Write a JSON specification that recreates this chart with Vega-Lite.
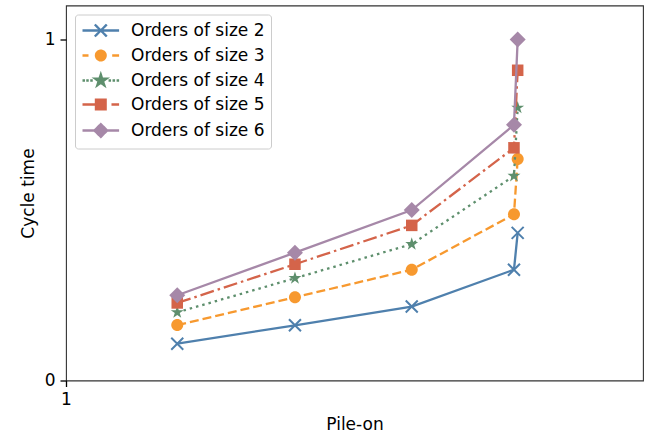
{
  "$schema": "https://vega.github.io/schema/vega-lite/v6.json",
  "width": 577,
  "height": 375,
  "autosize": {"type": "none"},
  "padding": {"left": 66, "top": 5.5, "right": 3, "bottom": 54.5},
  "background": "white",
  "config": {
    "font": "DejaVu Sans",
    "view": {"stroke": "#333333", "strokeWidth": 1.1},
    "axis": {
      "domain": false,
      "grid": false,
      "labelFlush": false,
      "tickColor": "#000000",
      "tickSize": 6,
      "tickWidth": 1.3,
      "labelFont": "DejaVu Sans",
      "labelFontSize": 17,
      "labelColor": "#000000",
      "labelPadding": 5,
      "titleFont": "DejaVu Sans",
      "titleFontSize": 17,
      "titleFontWeight": "normal",
      "titleColor": "#000000"
    }
  },
  "data": {
    "values": [
      {"x": 1.964, "y": 0.108, "s": "Orders of size 2"},
      {"x": 2.984, "y": 0.162, "s": "Orders of size 2"},
      {"x": 3.996, "y": 0.217, "s": "Orders of size 2"},
      {"x": 4.882, "y": 0.325, "s": "Orders of size 2"},
      {"x": 4.914, "y": 0.433, "s": "Orders of size 2"},
      {"x": 1.964, "y": 0.1625, "s": "Orders of size 3"},
      {"x": 2.984, "y": 0.244, "s": "Orders of size 3"},
      {"x": 3.996, "y": 0.325, "s": "Orders of size 3"},
      {"x": 4.882, "y": 0.4875, "s": "Orders of size 3"},
      {"x": 4.914, "y": 0.65, "s": "Orders of size 3"},
      {"x": 1.964, "y": 0.2, "s": "Orders of size 4"},
      {"x": 2.984, "y": 0.3, "s": "Orders of size 4"},
      {"x": 3.996, "y": 0.4, "s": "Orders of size 4"},
      {"x": 4.882, "y": 0.6, "s": "Orders of size 4"},
      {"x": 4.914, "y": 0.8, "s": "Orders of size 4"},
      {"x": 1.964, "y": 0.2275, "s": "Orders of size 5"},
      {"x": 2.984, "y": 0.341, "s": "Orders of size 5"},
      {"x": 3.996, "y": 0.455, "s": "Orders of size 5"},
      {"x": 4.882, "y": 0.6825, "s": "Orders of size 5"},
      {"x": 4.914, "y": 0.91, "s": "Orders of size 5"},
      {"x": 1.964, "y": 0.25, "s": "Orders of size 6"},
      {"x": 2.984, "y": 0.375, "s": "Orders of size 6"},
      {"x": 3.996, "y": 0.5, "s": "Orders of size 6"},
      {"x": 4.882, "y": 0.75, "s": "Orders of size 6"},
      {"x": 4.914, "y": 1.0, "s": "Orders of size 6"}
    ]
  },
  "encoding": {
    "x": {
      "field": "x", "type": "quantitative",
      "scale": {"domain": [1, 6], "nice": false, "zero": false},
      "axis": {"values": [1], "format": "~g", "title": "Pile-on", "titlePadding": 9}
    },
    "y": {
      "field": "y", "type": "quantitative",
      "scale": {"domain": [0, 1.1], "nice": false},
      "axis": {"values": [0, 1], "format": "~g", "title": "Cycle time", "titlePadding": 7}
    },
    "color": {
      "field": "s", "type": "nominal",
      "scale": {
        "domain": ["Orders of size 2", "Orders of size 3", "Orders of size 4", "Orders of size 5", "Orders of size 6"],
        "range": ["#4f80ad", "#f7992f", "#5e8f6d", "#d4644a", "#a688a8"]
      },
      "legend": {
        "title": null,
        "orient": "top-left",
        "offset": 9,
        "padding": 6,
        "fillColor": "rgba(255,255,255,0.8)",
        "strokeColor": "#cccccc",
        "cornerRadius": 3,
        "symbolSize": 289,
        "symbolStrokeWidth": 2.3,
        "labelFont": "DejaVu Sans",
        "labelFontSize": 17,
        "labelColor": "#000000",
        "labelOffset": 30,
        "rowPadding": 4,
        "encode": {
          "symbols": {
            "update": {
              "shape": {"signal": "datum.value === 'Orders of size 2' ? 'M-1,0L3.306,0M0.447,-0.706L1.859,0.706M0.447,0.706L1.859,-0.706' : datum.value === 'Orders of size 3' ? 'M-1,0L-0.294,0M2.494,0L3.306,0M1.724,0A0.571,0.571,0,1,1,0.582,0A0.571,0.571,0,1,1,1.724,0Z' : datum.value === 'Orders of size 4' ? 'M-1,0L-0.706,0M-0.56,0L-0.266,0M-0.088,0L0.206,0M2.065,0L2.359,0M2.535,0L2.829,0M3.012,0L3.306,0M1.153,-0.706L1.311,-0.218L1.824,-0.218L1.409,0.083L1.568,0.571L1.153,0.27L0.738,0.571L0.897,0.083L0.482,-0.218L0.995,-0.218Z' : datum.value === 'Orders of size 5' ? 'M-1,0L1.153,0M2.41,0L3.306,0M0.582,-0.571L1.724,-0.571L1.724,0.571L0.582,0.571Z' : 'M-1,0L3.306,0M1.153,-0.753L1.906,0L1.153,0.753L0.4,0Z'"},
              "size": {"value": 289},
              "fill": {"scale": "color", "field": "value"},
              "stroke": {"scale": "color", "field": "value"},
              "strokeWidth": {"value": 2.3},
              "strokeDash": {"value": [1, 0]},
              "strokeCap": {"value": "butt"},
              "opacity": {"value": 1},
              "fillOpacity": {"value": 1},
              "strokeOpacity": {"value": 1}
            }
          }
        }
      }
    }
  },
  "layer": [
    {"transform": [{"filter": "datum.s === 'Orders of size 2'"}], "mark": {"type": "line", "strokeWidth": 2.3}},
    {"transform": [{"filter": "datum.s === 'Orders of size 2'"}], "mark": {"type": "point", "filled": false, "opacity": 1, "strokeWidth": 2, "size": 256, "shape": "M-0.75,-0.75L0.75,0.75M-0.75,0.75L0.75,-0.75"}},
    {"transform": [{"filter": "datum.s === 'Orders of size 3'"}], "mark": {"type": "line", "strokeWidth": 2.3, "strokeDash": [9, 4]}},
    {"transform": [{"filter": "datum.s === 'Orders of size 3'"}], "mark": {"type": "point", "filled": true, "opacity": 1, "size": 256, "shape": "M0.75,0A0.75,0.75,0,1,1,-0.75,0A0.75,0.75,0,1,1,0.75,0Z"}},
    {"transform": [{"filter": "datum.s === 'Orders of size 4'"}], "mark": {"type": "line", "strokeWidth": 2.3, "strokeDash": [2.5, 4]}},
    {"transform": [{"filter": "datum.s === 'Orders of size 4'"}], "mark": {"type": "point", "filled": true, "opacity": 1, "size": 256, "shape": "M0,-0.85L0.191,-0.263L0.808,-0.263L0.309,0.1L0.5,0.688L0,0.325L-0.5,0.688L-0.309,0.1L-0.808,-0.263L-0.191,-0.263Z"}},
    {"transform": [{"filter": "datum.s === 'Orders of size 5'"}], "mark": {"type": "line", "strokeWidth": 2.3, "strokeDash": [14, 4, 2.5, 4]}},
    {"transform": [{"filter": "datum.s === 'Orders of size 5'"}], "mark": {"type": "point", "filled": true, "opacity": 1, "size": 256, "shape": "M-0.72,-0.72L0.72,-0.72L0.72,0.72L-0.72,0.72Z"}},
    {"transform": [{"filter": "datum.s === 'Orders of size 6'"}], "mark": {"type": "line", "strokeWidth": 2.3}},
    {"transform": [{"filter": "datum.s === 'Orders of size 6'"}], "mark": {"type": "point", "filled": true, "opacity": 1, "size": 256, "shape": "M0,-1L1,0L0,1L-1,0Z"}}
  ]
}
